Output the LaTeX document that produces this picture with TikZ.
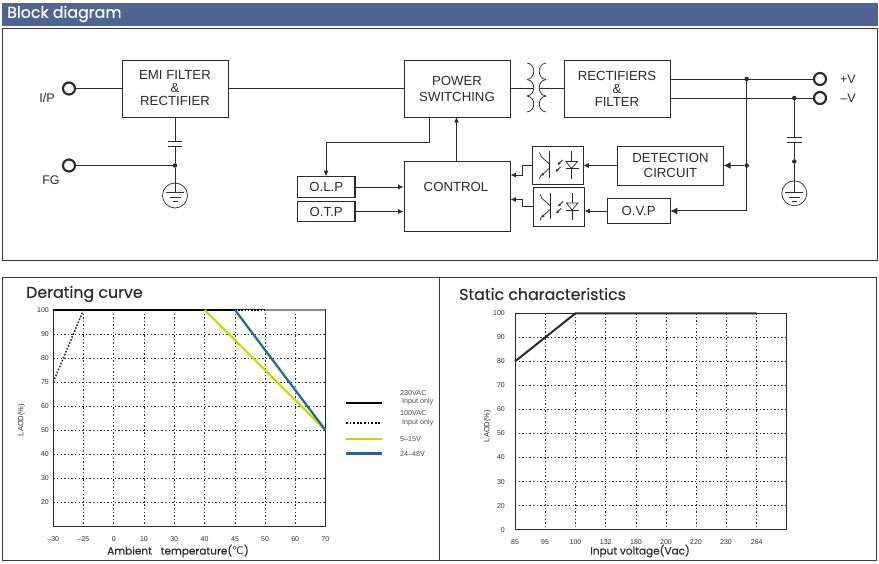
\documentclass[tikz,border=0pt]{standalone}
\usepackage{fontspec}
\setmainfont{Liberation Sans}
\newfontfamily\titlefont[FakeBold=0.25]{Poppins}
\newfontfamily\symfont{DejaVu Sans}
\usetikzlibrary{arrows.meta}
\definecolor{ink}{HTML}{2B2B2B}
\definecolor{frameclr}{HTML}{3A3A3A}
\definecolor{barblue}{HTML}{4F6591}
\definecolor{yline}{HTML}{C8D800}
\definecolor{bline}{HTML}{1F6A8F}
\tikzset{
  wire/.style={draw=ink,line width=0.75pt},
  arr/.style={wire,-{Latex[length=5.5pt,width=5pt]}},
  bigarr/.style={wire,line width=1pt,-{Latex[length=7pt,width=7pt]}},
  blk/.style={draw=ink,line width=0.9pt,inner sep=0pt,align=center,text=ink,font=\fontsize{13.2}{13}\selectfont},
  term/.style={circle,draw=ink,line width=2.2pt,inner sep=0pt,minimum size=12pt},
  jct/.style={circle,fill=ink,inner sep=0pt,minimum size=4.5pt},
  gnd/.style={circle,draw=ink,line width=0.7pt,inner sep=0pt,minimum size=25pt},
  lbl/.style={text=ink,inner sep=0pt,font=\fontsize{12.5}{13}\selectfont},
  ttl/.style={text=ink,inner sep=0pt,anchor=west,font=\titlefont\fontsize{15.8}{16}\selectfont},
  axl/.style={text=ink,inner sep=0pt,font=\titlefont\fontsize{10.5}{12}\selectfont},
  tick/.style={text=ink,inner sep=0pt,font=\fontsize{7}{7}\selectfont},
  griddot/.style={draw=ink,line width=0.9pt,dash pattern=on 1.4pt off 2.2pt},
  legtxt/.style={text=ink!85,inner sep=0pt,anchor=west,font=\fontsize{7.2}{7}\selectfont},
  frm/.style={draw=frameclr,line width=0.9pt},
}
\newcommand{\optoglyph}[2]{%
 \begin{scope}[shift={(#1,#2)}]
  \draw[wire] (17,5.5) -- (17,32);
  \draw[wire] (7,6.5) -- (9,11) -- (17,18);
  \draw[wire,-{Latex[length=3pt,width=3pt]}] (17,22) -- (8.5,30);
  \draw[wire] (8.5,29) -- (7,33);
  \draw[wire] (39,5.5) -- (39,33);
  \draw[wire,fill=white] (33.5,15.5) -- (45,15.5) -- (39,22.5) -- cycle;
  \draw[wire] (33,22.5) -- (46,22.5);
  \draw[wire,-{Latex[length=3pt,width=3pt]}] (30,14) -- (25,19);
  \draw[wire,-{Latex[length=3pt,width=3pt]}] (28,21) -- (23,26);
 \end{scope}}
\newcommand{\gndbars}[2]{%
  \draw[wire] (#1-9,#2) -- (#1+9,#2);
  \draw[wire] (#1-5.5,#2+5) -- (#1+5.5,#2+5);
  \draw[wire] (#1-2.5,#2+9) -- (#1+2.5,#2+9);}
\begin{document}
\begin{tikzpicture}[x=1pt,y=-1pt]
\useasboundingbox (0,0) rectangle (879,564);
\fill[white] (0,0) rectangle (879,564);
% header
\fill[barblue] (2,3) rectangle (878,26);
\node[anchor=west,text=white,inner sep=0pt,font=\titlefont\fontsize{15.8}{16}\selectfont] (hdr) at (7,14) {Block diagram};
\draw[frm] (2.5,28.5) rectangle (877,260.5);
% blocks
\node[blk,minimum width=106pt,minimum height=57pt] (emi) at (175,88.5) {EMI FILTER\\\&\\RECTIFIER};
\node[blk,minimum width=106pt,minimum height=57pt] (pow) at (457,88.5) {POWER\\[3pt]SWITCHING};
\node[blk,minimum width=106pt,minimum height=57pt] (rect) at (617,88.5) {RECTIFIERS\\\&\\FILTER};
\node[blk,minimum width=106pt,minimum height=70pt] (ctrl) at (457,196) {};
\node[lbl,font=\fontsize{13.2}{13}\selectfont] (ctrltxt) at (456,187) {CONTROL};
\node[blk,minimum width=105.5pt,minimum height=39pt] (det) at (670.5,165.5) {DETECTION\\[1.5pt]CIRCUIT};
\node[blk,minimum width=62.5pt,minimum height=24.5pt] (ovp) at (638.7,211) {O.V.P};
\node[blk,minimum width=57.5pt,minimum height=20.5pt,line width=1.1pt] (olp) at (326.2,187) {O.L.P};
\node[blk,minimum width=57.5pt,minimum height=20.5pt,line width=1.1pt] (otp) at (326.2,211.5) {O.T.P};
\node[blk,minimum width=50.5pt,minimum height=38.5pt] (op1) at (557.7,165.5) {};
\node[blk,minimum width=51pt,minimum height=38.5pt] (op2) at (558.5,207) {};
\optoglyph{532.5}{146}
\optoglyph{533}{187.5}
% terminals
\node[term] (ip) at (69,88.5) {};
\node[term] (fg) at (69,165.5) {};
\node[term] (pv) at (820,79) {};
\node[term] (nv) at (820,98) {};
\node[lbl] (ipl) at (47,98) {I/P};
\node[lbl] (fgl) at (51,180.5) {FG};
\node[lbl] (pvl) at (848,79.5) {+V};
\node[lbl] (nvl) at (848,98.5) {--V};
% input side
\draw[wire] (ip) -- (emi);
\draw[wire] (emi) -- (pow);
\node[jct] (j1) at (175,165.5) {};
\coordinate (c1a) at (175,141.5);
\coordinate (c1b) at (175,146.5);
\draw[wire] (emi.south) -- (c1a);
\draw[wire,line width=1pt] (168,141.5) -- (182,141.5);
\draw[wire,line width=1pt] (168,146.5) -- (182,146.5);
\draw[wire] (c1b) -- (j1);
\draw[wire] (fg) -- (j1);
\node[gnd] (g1) at (175,195.5) {};
\draw[wire] (j1) -- (175,192.7);
\gndbars{175}{192.7}
% transformer
\draw[wire] (pow.east) -- (533,88.5);
\draw[wire] (540,88.5) -- (rect.west);
\foreach \a/\b in {63/79.5,79.5/96,96/112}{
  \draw[wire] (527,\a) .. controls (536,\a+1) and (536,\b-1) .. (527,\b);
  \draw[wire] (546,\a) .. controls (537,\a+1) and (537,\b-1) .. (546,\b);
}
% output side
\node[jct] (j2) at (746.7,79) {};
\node[jct] (j3) at (746.7,165.5) {};
\node[jct] (j4) at (794.3,98) {};
\node[jct] (j5) at (794.3,161.5) {};
\coordinate (j6) at (746.7,211);
\draw[wire] (rect.east |- pv) -- (pv);
\draw[wire] (rect.east |- nv) -- (nv);
\draw[wire] (j2) -- (j6);
\draw[wire] (j4) -- (794.3,137.5);
\draw[wire,line width=1pt] (787,137.5) -- (802,137.5);
\draw[wire,line width=1pt] (787,143) -- (802,143);
\draw[wire] (794.3,143) -- (j5);
\node[gnd] (g2) at (794.3,193.3) {};
\draw[wire] (j5) -- (794.3,192.5);
\gndbars{794.3}{192.5}
% feedback arrows
\draw[bigarr] (j3) -- (det.east);
\draw[bigarr] (j6) -- (ovp.east);
\draw[arr] (det.west) -- (op1.east);
\draw[arr] (ovp.west) -- (ovp.west -| op2.east);
\draw[arr] (op1.west) -- (522,165.5) -- (522,175) -- (ctrl.east |- 522,175);
\draw[arr] (op2.west |- 522,206) -- (522,206) -- (522,199.5) -- (ctrl.east |- 522,199.5);
\draw[arr] (456.5,161) -- (456.5,117);
\draw[arr] (429.3,117) -- (429.3,142) -- (326,142) -- (olp.north -| 326,0);
\draw[arr] (olp.east) -- (olp.east -| ctrl.west);
\draw[arr] (otp.east) -- (otp.east -| ctrl.west);
% lower frames
\draw[frm] (2.5,277.5) rectangle (876.5,560.7);
\draw[frm] (439.5,277.5) -- (439.5,560.7);
\node[ttl] (t1) at (26,294) {Derating curve};
\node[ttl] (t2) at (459,294) {Static characteristics};
% ---------- chart 1
\foreach \x in {83.5,113.7,144,174.2,204.6,235,265,295.2}
  \draw[griddot] (\x,310) -- (\x,526.3);
\foreach \y in {334,358,382,406,430,454,478,502}
  \draw[griddot] (53.3,\y) -- (325.3,\y);
\draw[draw=ink,line width=1pt] (53.3,310) rectangle (325.3,526.3);
\draw[draw=black!45,line width=1.5pt] (265,310) -- (325.3,310);
\draw[draw=black,line width=1.8pt,dash pattern=on 1.6pt off 1.6pt] (235,310) -- (265,310);
\draw[draw=black,line width=1.8pt] (53.3,310) -- (235,310);
\draw[draw=ink,line width=1.5pt,dash pattern=on 1.6pt off 1.6pt] (53.3,382) -- (83.5,310);
\draw[draw=yline,line width=2.2pt] (204.6,310) -- (325.3,430);
\draw[draw=bline,line width=2.2pt] (235,310) -- (325.3,430);
\foreach \l/\y [count=\i] in {100/310,90/334,80/358,75/382,60/406,50/430,40/454,30/478,20/502}
  \node[tick,anchor=east] (ay\i) at (49,\y) {\l};
\foreach \l/\x [count=\i] in {--30/53.3,--25/83.5,0/113.7,10/144,30/174.2,40/204.6,45/235,50/265,60/295.2,70/325.3}
  \node[tick] (ax\i) at (\x,538.7) {\l};
\node[tick,rotate=90,font=\fontsize{7.5}{8}\selectfont] (ayl) at (21.5,420) {LAOD(\%)};
\node[axl] (axt) at (178,551) {Ambient\hspace{6pt} temperature({\symfont ℃})};
% legend
\draw[draw=black,line width=2pt] (346,402.5) -- (382,402.5);
\draw[draw=black,line width=2pt,dash pattern=on 1.8pt off 1.8pt] (346,423) -- (382,423);
\draw[draw=yline,line width=2.2pt] (346,439) -- (382,439);
\draw[draw=bline,line width=2.2pt] (346,453.5) -- (382,453.5);
\node[legtxt] (l1) at (400,393.5) {230VAC};
\node[legtxt] (l2) at (402,401.7) {Input only};
\node[legtxt] (l3) at (400,413.5) {100VAC};
\node[legtxt] (l4) at (402,423) {Input only};
\node[legtxt] (l5) at (400,439) {5--15V};
\node[legtxt] (l6) at (400,454.5) {24--48V};
% ---------- chart 2
\foreach \x in {545,575.5,605.7,636,666,696,726,756.7}
  \draw[griddot] (\x,313.3) -- (\x,529.7);
\foreach \y in {337.3,361.4,385.4,409.4,433.5,457.5,481.6,505.6}
  \draw[griddot] (515,\y) -- (786.7,\y);
\draw[draw=ink,line width=1pt] (515,313.3) rectangle (786.7,529.7);
\draw[draw=ink,line width=2pt,line join=round] (515,361.4) -- (575.5,313.3) -- (756.7,313.3);
\foreach \l/\y [count=\i] in {100/313.3,90/337.3,80/361.4,70/385.4,60/409.4,50/433.5,40/457.5,30/481.6,20/505.6,0/529.7}
  \node[tick,anchor=east] (by\i) at (505,\y) {\l};
\foreach \l/\x [count=\i] in {85/515,95/545,100/575.5,132/605.7,180/636,200/666,220/696,230/726,264/756.7}
  \node[tick] (bx\i) at (\x,542) {\l};
\node[tick,rotate=90,font=\fontsize{7.5}{8}\selectfont] (byl) at (487.5,426) {LAOD(\%)};
\node[axl] (bxt) at (640,551) {Input voltage(Vac)};
\end{tikzpicture}
\end{document}
